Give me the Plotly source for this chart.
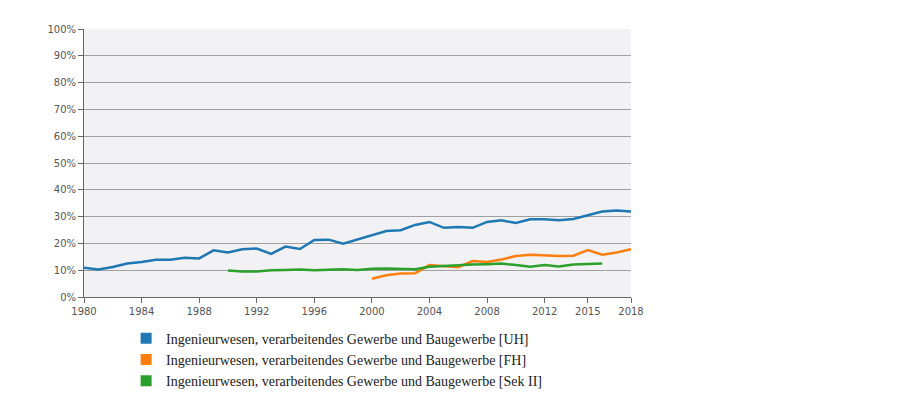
import plotly.graph_objects as go

years_uh = list(range(1980, 2019))
uh = [10.9, 10.3, 11.2, 12.5, 13.1, 13.9, 13.9, 14.6, 14.4, 17.4, 16.6, 17.8, 18.1, 16.1, 18.8, 17.9,
      21.3, 21.4, 19.9, 21.5, 23.0, 24.6, 24.9, 26.9, 28.0, 25.8, 26.1, 25.8, 28.0, 28.6, 27.6, 29.0,
      29.0, 28.6, 29.1, 30.4, 31.9, 32.3, 31.9]
years_fh = list(range(2000, 2019))
fh = [6.8, 8.1, 8.75, 8.9, 11.9, 11.4, 11.1, 13.4, 13.1, 14.0, 15.3, 15.8, 15.5, 15.3, 15.4, 17.5,
      15.8, 16.6, 17.8]
years_sek = list(range(1990, 2017))
sek = [9.9, 9.5, 9.5, 10.0, 10.1, 10.25, 10.0, 10.1, 10.4, 10.1, 10.5, 10.6, 10.4, 10.4, 11.25, 11.6,
       12.0, 12.1, 12.25, 12.5, 11.9, 11.25, 11.9, 11.4, 12.1, 12.4, 12.5]

names = ["Ingenieurwesen, verarbeitendes Gewerbe und Baugewerbe [UH]",
         "Ingenieurwesen, verarbeitendes Gewerbe und Baugewerbe [FH]",
         "Ingenieurwesen, verarbeitendes Gewerbe und Baugewerbe [Sek II]"]
colors = ["#1f77b4", "#ff7f0e", "#2ca02c"]
x_ticks = [1980, 1984, 1988, 1992, 1996, 2000, 2004, 2008, 2012, 2015, 2018]
y_ticks = [i / 10 for i in range(11)]

fig = go.Figure()
for xs, ys, nm, c in [(years_uh, uh, names[0], colors[0]),
                      (years_fh, fh, names[1], colors[1]),
                      (years_sek, sek, names[2], colors[2])]:
    fig.add_trace(go.Scatter(x=xs, y=[v / 100 for v in ys], mode="lines", name=nm,
                             line=dict(color=c, width=2.5), showlegend=False))
for nm, c in zip(names, colors):
    fig.add_trace(go.Scatter(x=[None], y=[None], mode="markers", name=nm,
                             marker=dict(symbol="square", size=11, color=c)))

fig.update_layout(
    width=900, height=408,
    margin=dict(l=76, r=277, t=21, b=119, autoexpand=False),
    paper_bgcolor="white", plot_bgcolor="#f2f1f3",
    legend=dict(x=0.077, y=-0.096, xanchor="left", yanchor="top",
                font=dict(family="Liberation Serif", size=14, color="#222"),
                tracegroupgap=0, itemwidth=30, bgcolor="rgba(0,0,0,0)"),
    font=dict(family="DejaVu Sans", size=10, color="#555"),
)
fig.update_xaxes(range=[1980, 2018], tickvals=x_ticks, ticktext=[str(t) for t in x_ticks],
                 showgrid=False, showline=True, linecolor="#666", linewidth=1,
                 ticks="outside", ticklen=5, tickcolor="#666", zeroline=False)
fig.update_yaxes(range=[0, 1], tickvals=y_ticks, tickformat=".0%",
                 showgrid=True, gridcolor="#a0a0a0", gridwidth=1,
                 showline=True, linecolor="#666", linewidth=1,
                 ticks="outside", ticklen=5, tickcolor="#666", zeroline=False)

fig.write_html("out.html")
